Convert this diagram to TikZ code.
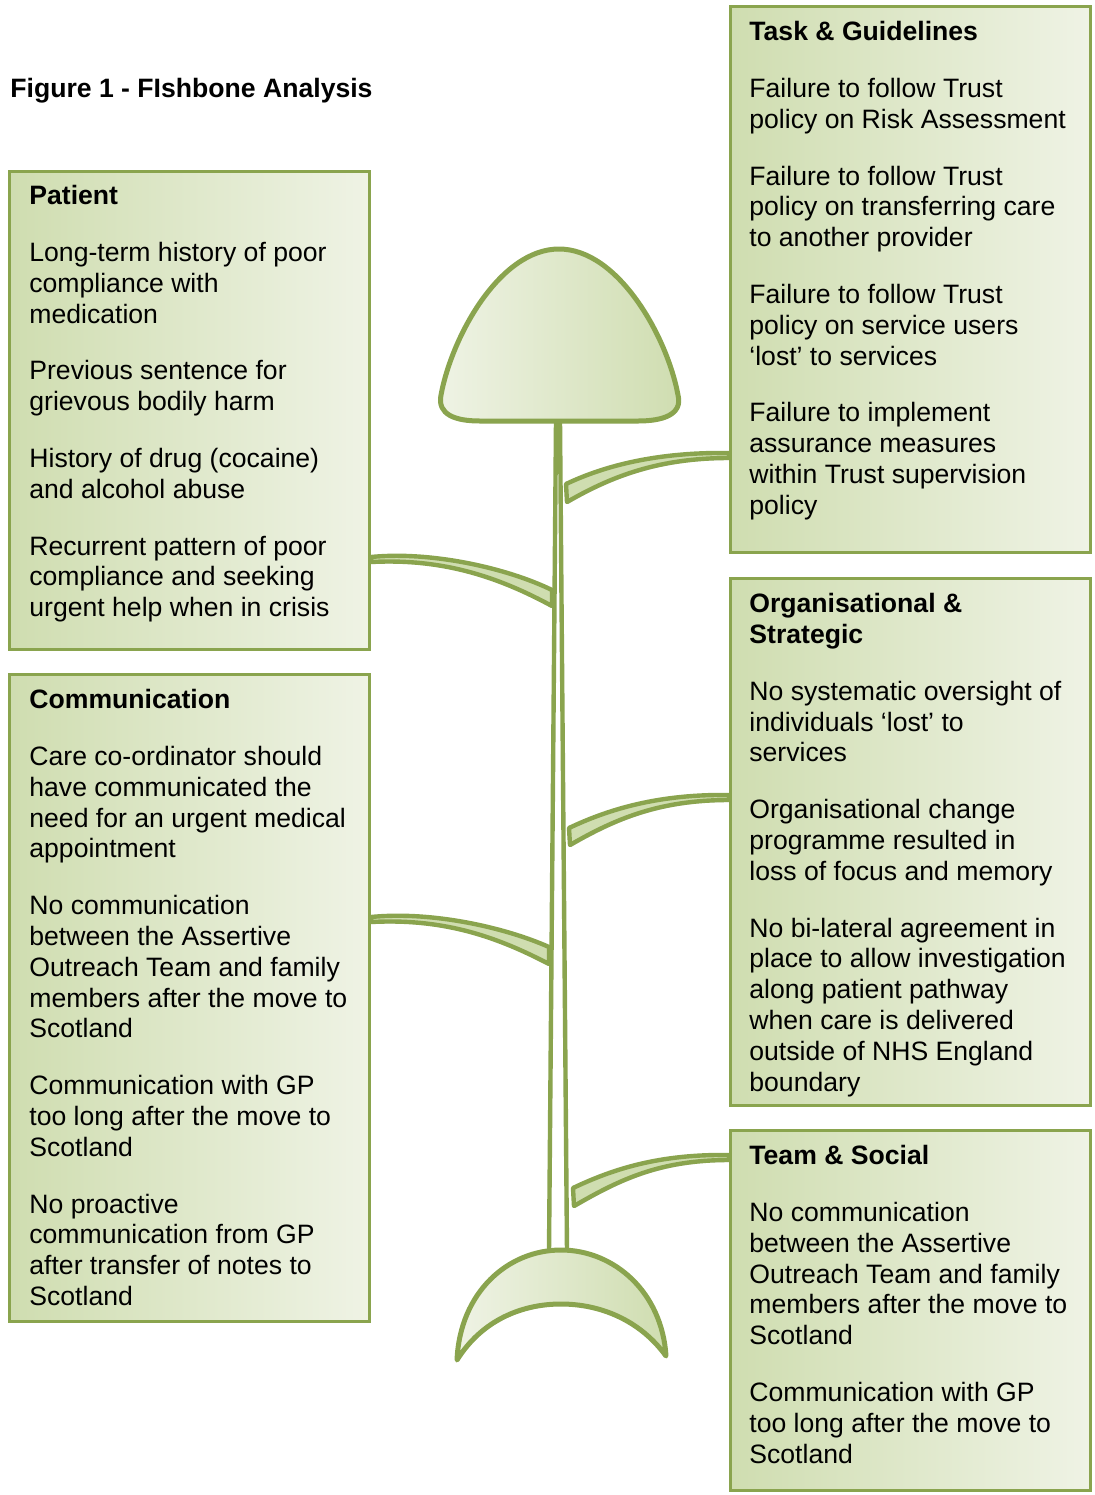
\documentclass[tikz,border=0pt]{standalone}
\usepackage{fontspec}
\setmainfont{Liberation Sans}
\usepackage{xcolor}
\usepackage{tikz}
\usetikzlibrary{positioning, shadows}

\definecolor{bonegreen}{RGB}{138,164,78}
\definecolor{boxdark}{RGB}{207,221,176}
\definecolor{boxlight}{RGB}{239,243,229}

\tikzset{
  catbox/.style={draw=bonegreen, line width=1.5pt, left color=boxdark, right color=boxlight, anchor=north west, minimum width=180pt, inner sep=0pt},
  cattext/.style={anchor=north west, inner sep=0pt, align=left, font=\fontsize{13.3}{15.4}\selectfont},
  bone/.style={draw=bonegreen, line width=2.2pt, fill=boxdark, line join=round, drop shadow={shadow xshift=0.5pt, shadow yshift=-1pt, opacity=0.25}},
  fishpart/.style={draw=bonegreen, line width=2.5pt, left color=boxlight, right color=boxdark, line join=round, drop shadow={shadow xshift=0.5pt, shadow yshift=-1pt, opacity=0.25}},
}

\begin{document}
\begin{tikzpicture}[x=0.5pt, y=-0.5pt]
\useasboundingbox (0,0) rectangle (1095,1495);

\node[anchor=base west, inner sep=0pt, font=\bfseries\fontsize{13.3}{15.4}\selectfont] (title) at (10,97) {Figure 1 - FIshbone Analysis};

% spine, head and tail
\coordinate (neck) at (558,421);
\coordinate (tailtop) at (558,1252);
\draw[bonegreen, line width=2.2pt, fill=white, line join=round] ([xshift=-1pt]neck) -- ([xshift=-4.5pt]tailtop) -- ([xshift=4.5pt]tailtop) -- ([xshift=1pt]neck) -- cycle;
\draw[fishpart] (441,395) .. controls (452,336) and (500,249) .. (559,249) .. controls (618,249) and (667,336) .. (678,395) .. controls (683,415) and (662,421) .. (638,421) -- (480,421) .. controls (456,421) and (437,415) .. (441,395) -- cycle;
\draw[fishpart] (457,1360) .. controls (460,1292) and (508,1250) .. (561,1250) .. controls (614,1250) and (662,1292) .. (666,1356) .. controls (640,1320) and (600,1304) .. (561,1304) .. controls (522,1304) and (482,1320) .. (457,1360) -- cycle;

% cause boxes
\node[catbox, minimum height=239pt] (patient) at (8,170) {};
\node[catbox, minimum height=323.5pt] (comm) at (8,673) {};
\node[catbox, minimum height=273pt] (task) at (729,5) {};
\node[catbox, minimum height=263.5pt] (org) at (729,577) {};
\node[catbox, minimum height=180pt] (team) at (729,1129) {};

\node[cattext] (patienttxt) at ([shift={(21,15)}]patient.north west) {\textbf{Patient}\\[13pt]
Long-term history of poor\\compliance with\\medication\\[13pt]
Previous sentence for\\grievous bodily harm\\[13pt]
History of drug (cocaine)\\and alcohol abuse\\[13pt]
Recurrent pattern of poor\\compliance and seeking\\urgent help when in crisis};

\node[cattext] (commtxt) at ([shift={(21,16)}]comm.north west) {\textbf{Communication}\\[13pt]
Care co-ordinator should\\have communicated the\\need for an urgent medical\\appointment\\[13pt]
No communication\\between the Assertive\\Outreach Team and family\\members after the move to\\Scotland\\[13pt]
Communication with GP\\too long after the move to\\Scotland\\[13pt]
No proactive\\communication from GP\\after transfer of notes to\\Scotland};

\node[cattext] (tasktxt) at ([shift={(20,16)}]task.north west) {\textbf{Task \& Guidelines}\\[13pt]
Failure to follow Trust\\policy on Risk Assessment\\[13pt]
Failure to follow Trust\\policy on transferring care\\to another provider\\[13pt]
Failure to follow Trust\\policy on service users\\‘lost’ to services\\[13pt]
Failure to implement\\assurance measures\\within Trust supervision\\policy};

\node[cattext] (orgtxt) at ([shift={(20,16)}]org.north west) {\textbf{Organisational \&}\\\textbf{Strategic}\\[13pt]
No systematic oversight of\\individuals ‘lost’ to\\services\\[13pt]
Organisational change\\programme resulted in\\loss of focus and memory\\[13pt]
No bi-lateral agreement in\\place to allow investigation\\along patient pathway\\when care is delivered\\outside of NHS England\\boundary};

\node[cattext] (teamtxt) at ([shift={(20,16)}]team.north west) {\textbf{Team \& Social}\\[13pt]
No communication\\between the Assertive\\Outreach Team and family\\members after the move to\\Scotland\\[13pt]
Communication with GP\\too long after the move to\\Scotland};

% bones
\draw[bone] (patient.east |- 0,557) .. controls +(60,-6) and +(-45,-22) .. (552,590) -- (552,606) .. controls +(-50,-27) and +(75,-4) .. (patient.east |- 0,562) -- cycle;
\draw[bone] (comm.east |- 0,917) .. controls +(60,-6) and +(-45,-20) .. (549,947) -- (549,964) .. controls +(-50,-26) and +(75,-4) .. (comm.east |- 0,922) -- cycle;
\draw[bone] (task.west |- 0,453) .. controls +(-70,-1) and +(40,-19) .. (566,484) -- (567,502) .. controls +(45,-26) and +(-70,0) .. (task.west |- 0,458) -- cycle;
\draw[bone] (org.west |- 0,795) .. controls +(-70,-1) and +(40,-19) .. (569,828) -- (570,845) .. controls +(45,-26) and +(-70,0) .. (org.west |- 0,800) -- cycle;
\draw[bone] (team.west |- 0,1155) .. controls +(-70,-1) and +(40,-19) .. (573,1188) -- (574,1206) .. controls +(45,-26) and +(-70,0) .. (team.west |- 0,1160) -- cycle;
\end{tikzpicture}
\end{document}
